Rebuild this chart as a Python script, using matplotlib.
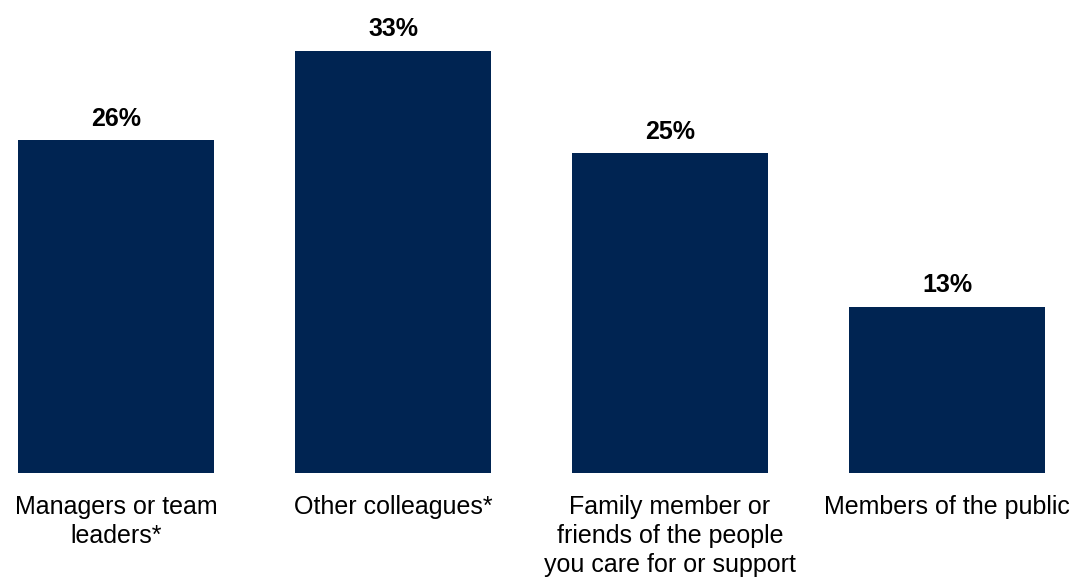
import matplotlib.pyplot as plt

plt.rcParams['font.family'] = ['Liberation Sans', 'DejaVu Sans']

categories = ["Managers or team\nleaders*", "Other colleagues*",
              "Family member or\nfriends of the people\nyou care for or support",
              "Members of the public"]
values = [26, 33, 25, 13]

fig = plt.figure(figsize=(10.74, 5.77), dpi=100)
ax = fig.add_axes([0, 104 / 577, 1, 460.4 / 577])

x = list(range(len(categories)))
bars = ax.bar(x, values, width=196 / 277, color="#002452")
for b, v in zip(bars, values):
    ax.annotate(f"{v}%", (b.get_x() + b.get_width() / 2, v), xytext=(0, 7),
                textcoords="offset points", ha="center", va="bottom",
                fontsize=18, fontweight="bold")

ax.set_xlim(-116 / 277, 3 + 127 / 277)
ax.set_ylim(0, 36)
ax.set_xticks(x)
ax.set_xticklabels(categories, fontsize=18, linespacing=1.25)
ax.tick_params(axis="x", length=0, pad=16)
ax.set_yticks([])
for s in ax.spines.values():
    s.set_visible(False)

fig.savefig("out.png")
